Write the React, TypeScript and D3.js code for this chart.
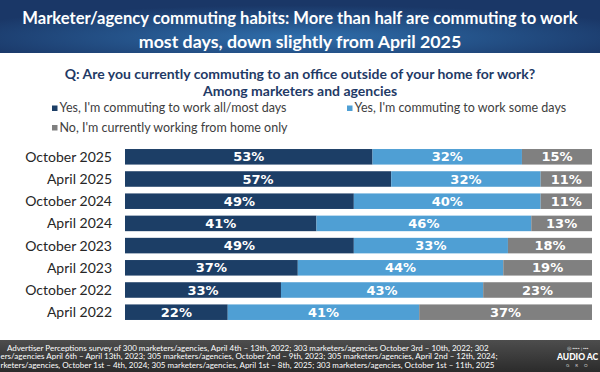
import React from 'react';
import * as d3 from 'd3';

// survey waves, top to bottom
const categories = [
  'October 2025', 'April 2025', 'October 2024', 'April 2024',
  'October 2023', 'April 2023', 'October 2022', 'April 2022',
];

const seriesNames = [
  "Yes, I'm commuting to work all/most days",
  "Yes, I'm commuting to work some days",
  "No, I'm currently working from home only",
];

// percentages per wave (Oct 2022 labels round to 33/43/23)
const allMostDays = [53, 57, 49, 41, 49, 37, 33.4, 22];
const someDays = [32, 32, 40, 46, 33, 44, 43.3, 41];
const homeOnly = [15, 11, 11, 13, 18, 19, 23.3, 37];

const colors = ['#1c3e66', '#4f9fd4', '#808080'];

const titleLines = [
  'Marketer/agency commuting habits: More than half are commuting to work',
  'most days, down slightly from April 2025',
];
const questionLines = [
  'Q: Are you currently commuting to an office outside of your home for work?',
  'Among marketers and agencies',
];
// footer as it shows on the slide (left edge is cropped there)
const footerLines = [
  'Advertiser Perceptions survey of 300 marketers/agencies, April 4th \u2013 13th,  2022; 303 marketers/agencies October 3rd \u2013 10th, 2022; 302',
  'ers/agencies April 6th \u2013 April 13th, 2023; 305 marketers/agencies, October 2nd \u2013 9th, 2023; 305 marketers/agencies, April 2nd \u2013 12th, 2024;',
  'rketers/agencies, October 1st \u2013 4th, 2024; 305 marketers/agencies, April 1st \u2013  8th, 2025; 303 marketers/agencies, October 1st \u2013 11th, 2025',
];

const W = 600;
const H = 372;

type Row = { cat: string; a: number; b: number; c: number };

const App: React.FC = () => {
  const rows: Row[] = categories.map((cat, i) => ({
    cat, a: allMostDays[i], b: someDays[i], c: homeOnly[i],
  }));

  const x = d3.scaleLinear().domain([0, 100]).range([125, 592]);
  const y = d3.scaleBand<string>()
    .domain(categories)
    .range([145.7, 323.3])
    .paddingInner(0.3)
    .paddingOuter(0.15);

  const stacked = d3.stack<Row>().keys(['a', 'b', 'c'])(rows);

  const font = 'Lato, "Open Sans", sans-serif';

  return (
    <svg width={W} height={H} style={{ position: 'fixed', left: 0, top: 0, background: '#fff' }}>
      <defs>
        <radialGradient id="titleBg" cx="50%" cy="70%" r="60%">
          <stop offset="0%" stopColor="#2f6eab" />
          <stop offset="100%" stopColor="#1a3767" />
        </radialGradient>
        <linearGradient id="footBg" x1="0" y1="0" x2="0" y2="1">
          <stop offset="0%" stopColor="#4d4d4d" />
          <stop offset="100%" stopColor="#2b2b2b" />
        </linearGradient>
      </defs>

      {/* title band */}
      <rect x={0} y={0} width={W} height={53} fill="url(#titleBg)" />
      <text x={300} y={23.5} textAnchor="middle" fill="#fff" fontFamily={font} fontWeight={700}
        fontSize={16.6}>{titleLines[0]}</text>
      <text x={300} y={47.5} textAnchor="middle" fill="#fff" fontFamily={font} fontWeight={700}
        fontSize={17.8}>{titleLines[1]}</text>

      {questionLines.map((t, i) => (
        <text key={t} x={300} y={79 + i * 17} textAnchor="middle" fill="#1f3a66"
          fontFamily={font} fontWeight={700} fontSize={14}>{t}</text>
      ))}

      {/* legend */}
      {seriesNames.map((name, i) => {
        const lx = i === 1 ? 347 : 52;
        const ly = i === 2 ? 131.5 : 112;
        return (
          <g key={name}>
            <rect x={lx} y={ly - 6.5} width={5.5} height={5.5} fill={colors[i]} />
            <text x={lx + 7.5} y={ly} fill="#404040" fontFamily={font} fontSize={12.5}>{name}</text>
          </g>
        );
      })}

      {/* category labels */}
      {categories.map(c => (
        <text key={c} x={112} y={(y(c) ?? 0) + y.bandwidth() / 2} dy="0.36em" textAnchor="end"
          fill="#262626" fontFamily={font} fontSize={14}>{c}</text>
      ))}

      {/* stacked bars */}
      {stacked.map((layer, si) => (
        <g key={layer.key}>
          {layer.map(d => {
            const cat = d.data.cat;
            const x0 = x(d[0]);
            const x1 = x(d[1]);
            return (
              <g key={cat}>
                <rect x={x0} y={y(cat)} width={x1 - x0} height={y.bandwidth()} fill={colors[si]} />
                <text x={(x0 + x1) / 2} y={(y(cat) ?? 0) + y.bandwidth() / 2} dy="0.36em"
                  textAnchor="middle" fill="#fff" fontFamily='"DejaVu Sans", sans-serif'
                  fontWeight={700} fontSize={13}>{`${Math.round(d[1] - d[0])}%`}</text>
              </g>
            );
          })}
        </g>
      ))}

      {/* footer */}
      <rect x={0} y={340} width={W} height={H - 340} fill="url(#footBg)" />
      {footerLines.map((t, i) => (
        <text key={i} x={i === 0 ? 7 : 0.5} y={350.5 + i * 8.8} fill="#fff"
          fontFamily={font} fontSize={8}>{t}</text>
      ))}
      <text x={578} y={350} fill="#ddd" fontFamily={font} fontSize={4.5} textAnchor="middle">{'\u25CE \u25AA\u25AA\u25AA\u25AA | \u25AA\u25AA\u25AA'}</text>
      <text x={557} y={360} fill="#fff" fontFamily={font} fontWeight={900} fontSize={8.5}>AUDIO AC</text>
      <text x={566} y={367} fill="#ccc" fontFamily={font} fontSize={4.5} letterSpacing={6}>GRO</text>
    </svg>
  );
};

export default App;
